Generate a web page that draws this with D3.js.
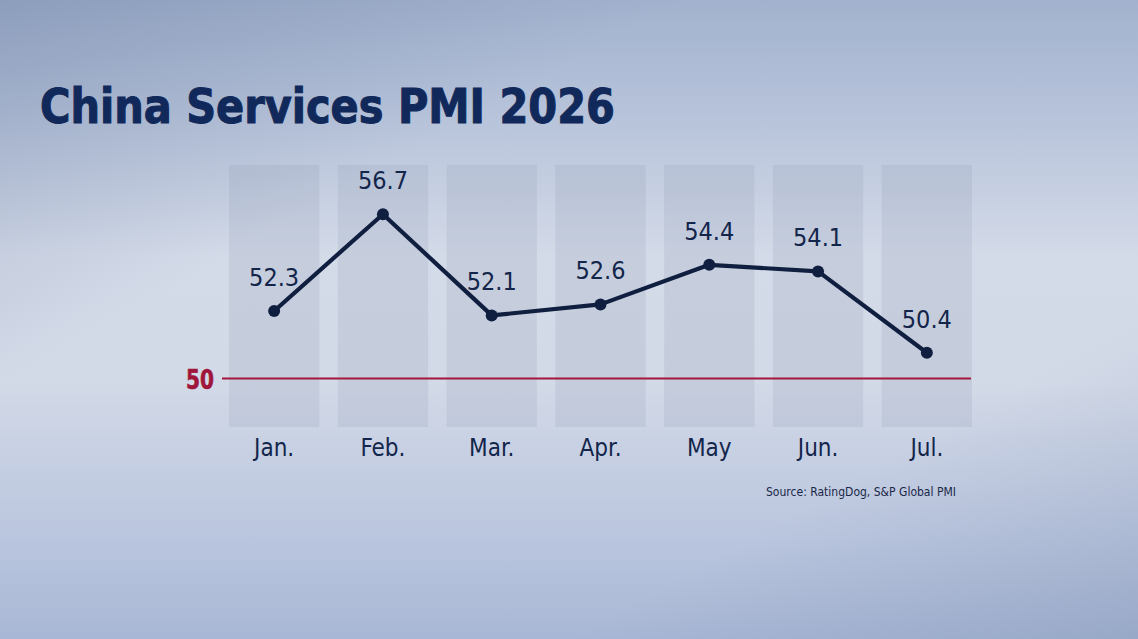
<!DOCTYPE html>
<html>
<head>
<meta charset="utf-8">
<script src="https://cdn.jsdelivr.net/npm/d3@7/dist/d3.min.js"></script>
<style>
  html, body { margin: 0; padding: 0; background: #c8d1e2; }
  svg { display: block; }
</style>
</head>
<body>
<svg id="chart" width="1138" height="639"></svg>
<script>
// ---- data ----
const months = ["Jan.", "Feb.", "Mar.", "Apr.", "May", "Jun.", "Jul."];
const pmiValues = [52.3, 56.7, 52.1, 52.6, 54.4, 54.1, 50.4];
const thresholdLabel = "50";
const titleText = "China Services PMI 2026";
const sourceText = "Source: RatingDog, S&P Global PMI";

// ---- layout ----
const W = 1138, H = 639;
const svg = d3.select("#chart");
const defs = svg.append("defs");

// background gradients
const bgV = defs.append("linearGradient").attr("id", "bgV")
  .attr("x1", 0).attr("y1", 0).attr("x2", 0).attr("y2", 1);
[["0%", "#a2b2ce"], ["15%", "#b3c0d8"], ["40%", "#d3dae8"], ["60%", "#d2d9e7"], ["85%", "#b9c5de"], ["100%", "#a8b7d5"]]
  .forEach(([o, c]) => bgV.append("stop").attr("offset", o).attr("stop-color", c));

const bgD = defs.append("linearGradient").attr("id", "bgD")
  .attr("x1", 0).attr("y1", 0).attr("x2", 1).attr("y2", 1);
[["0%", "#5f7398", 0.32], ["30%", "#5f7398", 0.0], ["75%", "#5f7398", 0.0], ["100%", "#5f7398", 0.22]]
  .forEach(([o, c, a]) => bgD.append("stop").attr("offset", o).attr("stop-color", c).attr("stop-opacity", a));

svg.append("rect").attr("width", W).attr("height", H).attr("fill", "url(#bgV)");
svg.append("rect").attr("width", W).attr("height", H).attr("fill", "url(#bgD)");

// scales
const x = d3.scaleBand().domain(months).range([229, 972]).paddingInner(0.17).paddingOuter(0);
const y = d3.scaleLinear().domain([49, 57]).range([383.6, 207.6]);
const baselineValue = 49.23; // position at which the "50" threshold is drawn in the original graphic

const colTop = 165, colBottom = 427;
const navy = "#101f3f";
const font = "'DejaVu Sans Condensed', 'DejaVu Sans', sans-serif";

// title
svg.append("text")
  .attr("x", 40).attr("y", 123)
  .attr("font-family", font).attr("font-weight", "bold")
  .attr("font-size", 48)
  .attr("textLength", 575).attr("lengthAdjust", "spacingAndGlyphs")
  .attr("fill", "#11295a")
  .attr("stroke", "#11295a").attr("stroke-width", 1)
  .text(titleText);

// columns
svg.append("g").selectAll("rect").data(months).join("rect")
  .attr("x", d => x(d))
  .attr("y", colTop)
  .attr("width", x.bandwidth())
  .attr("height", colBottom - colTop)
  .attr("fill", "#8590a6").attr("fill-opacity", 0.16);

// threshold line
svg.append("line")
  .attr("x1", 222).attr("x2", 971)
  .attr("y1", y(baselineValue)).attr("y2", y(baselineValue))
  .attr("stroke", "#a3173d").attr("stroke-width", 2);

svg.append("text")
  .attr("x", 214).attr("y", y(baselineValue) + 10)
  .attr("text-anchor", "end")
  .attr("font-family", font).attr("font-weight", "bold")
  .attr("font-size", 27)
  .attr("textLength", 28).attr("lengthAdjust", "spacingAndGlyphs")
  .attr("fill", "#a0163b")
  .attr("stroke", "#a0163b").attr("stroke-width", 0.6)
  .text(thresholdLabel);

// line
const cx = d => x(d) + x.bandwidth() / 2;
const pts = months.map((m, i) => ({ m, v: pmiValues[i] }));
svg.append("path")
  .datum(pts)
  .attr("d", d3.line().x(d => cx(d.m)).y(d => y(d.v)))
  .attr("fill", "none").attr("stroke", navy)
  .attr("stroke-width", 4.2).attr("stroke-linejoin", "round").attr("stroke-linecap", "round");

svg.append("g").selectAll("circle").data(pts).join("circle")
  .attr("cx", d => cx(d.m)).attr("cy", d => y(d.v)).attr("r", 6)
  .attr("fill", navy);

// value labels
svg.append("g").selectAll("text").data(pts).join("text")
  .attr("x", d => cx(d.m)).attr("y", d => y(d.v) - 25)
  .attr("text-anchor", "middle")
  .attr("font-family", font).attr("font-size", 25)
  .attr("fill", "#13254a")
  .text(d => d3.format(".1f")(d.v));

// month labels
svg.append("g").selectAll("text").data(months).join("text")
  .attr("x", d => cx(d)).attr("y", 456)
  .attr("text-anchor", "middle")
  .attr("font-family", font).attr("font-size", 24)
  .attr("fill", "#13254a")
  .text(d => d);

// source
svg.append("text")
  .attr("x", 956).attr("y", 496)
  .attr("text-anchor", "end")
  .attr("font-family", font).attr("font-size", 13)
  .attr("textLength", 190).attr("lengthAdjust", "spacingAndGlyphs")
  .attr("fill", "#1a2848")
  .text(sourceText);
</script>
</body>
</html>
